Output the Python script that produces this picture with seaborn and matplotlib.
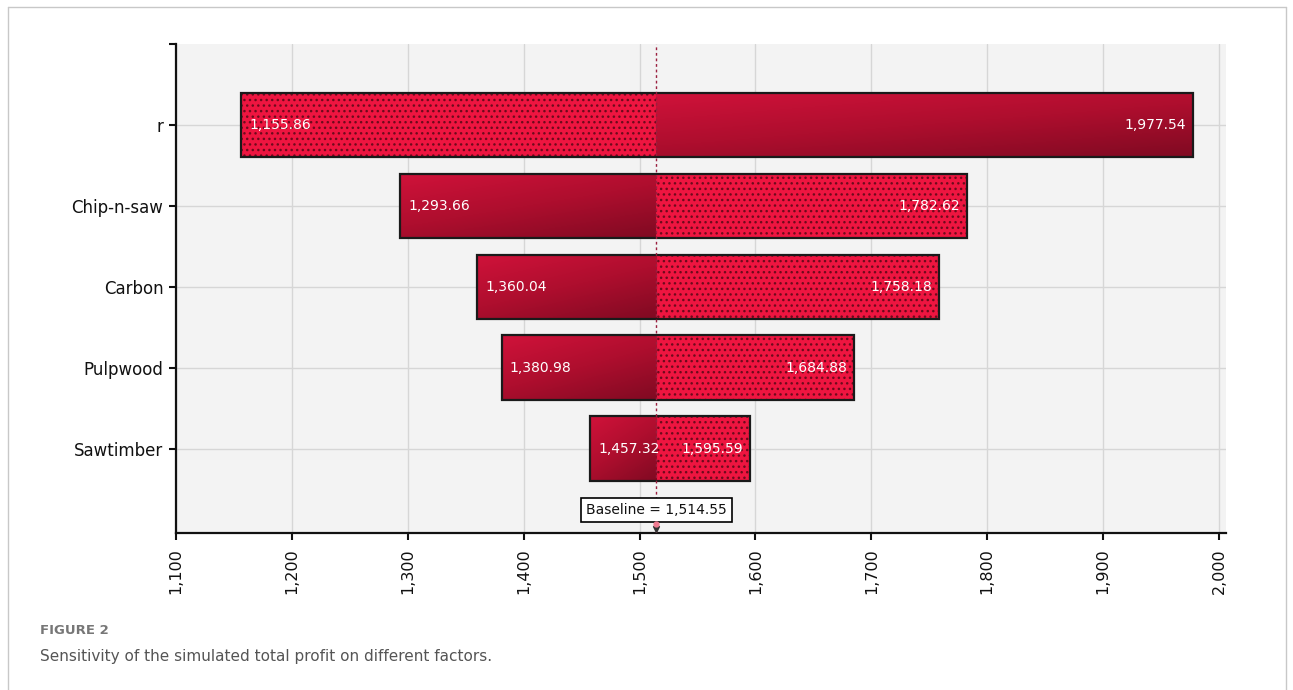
import numpy as np
import pandas as pd
import matplotlib.pyplot as plt
import matplotlib.ticker as mticker
from matplotlib.colors import LinearSegmentedColormap
from matplotlib.lines import Line2D
import seaborn as sns

# === 1. Daten ===
factors = ["r", "Chip-n-saw", "Carbon", "Pulpwood", "Sawtimber"]
low_vals = [1155.86, 1293.66, 1360.04, 1380.98, 1457.32]
high_vals = [1977.54, 1782.62, 1758.18, 1684.88, 1595.59]
baseline = 1514.55
# welche Seite des Balkens gepunktet ist
hatched_side = ["low", "high", "high", "high", "high"]
x_ticks = list(range(1100, 2001, 100))

df = pd.DataFrame({"Faktor": factors, "low": low_vals, "high": high_vals})
df["left_w"] = baseline - df["low"]
df["right_w"] = df["high"] - baseline
df["full_w"] = df["high"] - df["low"]

# === 2. Stil ===
sns.set_theme(style="whitegrid")
plt.rcParams["font.family"] = ["DejaVu Sans"]
plt.rcParams["hatch.linewidth"] = 1.0

red_grad = LinearSegmentedColormap.from_list("rg", ["#d0123a", "#ae0e2e", "#800a22"])
hatch_face = "#ee1540"
hatch_col = "#6e0a1c"

fig = plt.figure(figsize=(12.93, 6.9), dpi=100)
ax = fig.add_axes([0.1361, 0.2275, 0.812, 0.7087])
ax.set_facecolor("#f3f3f3")

# === 3. Tornado-Balken ===
sns.barplot(data=df, x="left_w", y="Faktor", left=df["low"].to_numpy(),
            width=0.8, errorbar=None, color=hatch_face, ax=ax)
left_bars = list(ax.containers[-1])
sns.barplot(data=df, x="right_w", y="Faktor", left=np.full(len(df), baseline),
            width=0.8, errorbar=None, color=hatch_face, ax=ax)
right_bars = list(ax.containers[-1])

u, v = np.meshgrid(np.linspace(0, 1, 200), np.linspace(0, 1, 60))
grad = 0.4 * u + 0.6 * v

for i, side in enumerate(hatched_side):
    hb, sb = (left_bars[i], right_bars[i]) if side == "low" else (right_bars[i], left_bars[i])
    hb.set_facecolor(hatch_face)
    hb.set_edgecolor(hatch_col)
    hb.set_linewidth(0)
    hb.set_hatch("...")
    sb.set_facecolor("#b00f30")
    sb.set_linewidth(0)
    x0, y0 = sb.get_x(), sb.get_y()
    w, h = sb.get_width(), sb.get_height()
    ax.imshow(grad, extent=[x0, x0 + w, y0 + h, y0], aspect="auto", cmap=red_grad,
              zorder=sb.get_zorder() + 0.1, clip_path=sb, clip_on=True)

# Umrandung
sns.barplot(data=df, x="full_w", y="Faktor", left=df["low"].to_numpy(),
            width=0.8, errorbar=None, color="black", ax=ax)
for p in ax.containers[-1]:
    p.set_facecolor("none")
    p.set_edgecolor("#1a1a1a")
    p.set_linewidth(1.6)
    p.set_zorder(3)

# Beschriftungen
for i, (lo, hi) in enumerate(zip(low_vals, high_vals)):
    ax.annotate(f"{lo:,.2f}", (lo, i), xytext=(6, 0), textcoords="offset points",
                ha="left", va="center", color="white", fontsize=10, zorder=4)
    ax.annotate(f"{hi:,.2f}", (hi, i), xytext=(-5, 0), textcoords="offset points",
                ha="right", va="center", color="white", fontsize=10, zorder=4)

# Baseline
ax.axvline(baseline, color="#9a2040", lw=1, linestyle=(0, (2, 2)), zorder=3.5)
ax.text(baseline, 4.76, f"Baseline = {baseline:,.2f}", ha="center", va="center",
        fontsize=10, color="#111111", zorder=5,
        bbox=dict(boxstyle="square,pad=0.35", fc="white", ec="black", lw=1.2))
ax.plot([baseline], [4.99], marker="v", color="#333333", ms=5, zorder=5, clip_on=False)
ax.plot([baseline], [4.93], marker="o", color="#f07a90", ms=3.5, zorder=5, clip_on=False)

# === 4. Achsen ===
ax.set_xlim(1100, 2006)
ax.set_ylim(5.04, -1.0)
ax.set_xticks(x_ticks)
ax.xaxis.set_major_formatter(mticker.FuncFormatter(lambda x, p: f"{x:,.0f}"))
ax.set_yticks([-1.0], minor=True)
ax.set_xlabel("")
ax.set_ylabel("")
ax.grid(True, which="major", color="#d6d6d6", lw=1)
ax.set_axisbelow(True)
for s in ["top", "right"]:
    ax.spines[s].set_visible(False)
for s in ["left", "bottom"]:
    ax.spines[s].set_visible(True)
    ax.spines[s].set_color("#111111")
    ax.spines[s].set_linewidth(1.6)
ax.tick_params(axis="both", which="both", bottom=True, left=True, direction="out",
               length=5, width=1.5, color="#111111", labelcolor="#111111", labelsize=12)
ax.tick_params(axis="x", labelrotation=90, pad=6, labelsize=11.5)
ax.tick_params(axis="y", pad=4)

# === 5. Rahmen & Bildunterschrift ===
fw, fh = 1293, 690
frame_c = "#c8c8c8"
fig.add_artist(Line2D([8 / fw, 8 / fw], [0, 1 - 7 / fh], color=frame_c, lw=1))
fig.add_artist(Line2D([8 / fw, 1286 / fw], [1 - 7 / fh, 1 - 7 / fh], color=frame_c, lw=1))
fig.add_artist(Line2D([1286 / fw, 1286 / fw], [0, 1 - 7 / fh], color=frame_c, lw=1))
fig.text(40 / fw, 1 - 630 / fh, "FIGURE 2", color="#777777", fontsize=9.5,
         fontweight="semibold", va="center")
fig.text(40 / fw, 1 - 656 / fh, "Sensitivity of the simulated total profit on different factors.",
         color="#555555", fontsize=11, va="center")

fig.savefig("out.png", dpi=100)
